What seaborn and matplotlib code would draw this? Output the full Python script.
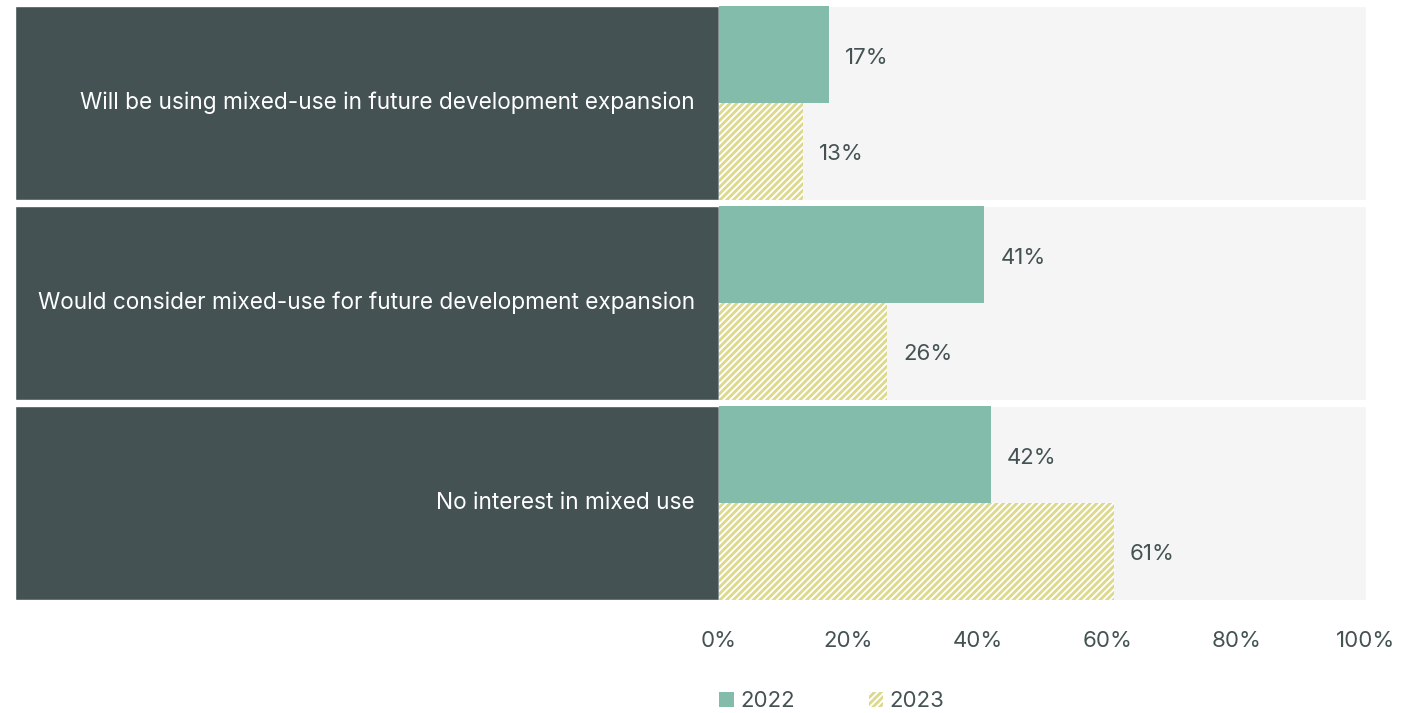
import pandas as pd
import numpy as np
import matplotlib.pyplot as plt
import matplotlib.patches as mpatches
import seaborn as sns

categories = ["Will be using mixed-use in future development expansion",
              "Would consider mixed-use for future development expansion",
              "No interest in mixed use"]
years = ["2022", "2023"]
vals_2022 = [17, 41, 42]
vals_2023 = [13, 26, 61]

dark = "#445254"
green = "#84bcac"
yellow = "#dcd88e"
bg = "#f5f5f5"

df = pd.DataFrame({
    "category": categories * 2,
    "year": [years[0]] * 3 + [years[1]] * 3,
    "value": vals_2022 + vals_2023,
})

sns.set_style("white")
plt.rcParams["font.family"] = ["Inter", "DejaVu Sans"]
plt.rcParams["hatch.linewidth"] = 2.0

fig = plt.figure(figsize=(14.28, 7.13), dpi=100)
ax = fig.add_axes([15 / 1428, 1 - 603 / 713, (1366 - 15) / 1428, 600 / 713])

left = -108.8
# panels behind the bars
for i in range(len(categories)):
    ax.barh(i, -left, left=left, height=0.97, color=dark, zorder=0)
    ax.barh(i, 100, left=0, height=0.97, color=bg, zorder=0)

sns.barplot(data=df, y="category", x="value", hue="year", hue_order=years,
            palette=[green, "white"], width=0.97, orient="h", ax=ax,
            legend=False, zorder=2, linewidth=0, saturation=1)

bars22, bars23 = ax.containers[-2:]
for p in bars23:
    p.set_hatch("/////")
    p.set_edgecolor(yellow)
    p.set_linewidth(0)

for cont, vals in zip([bars22, bars23], [vals_2022, vals_2023]):
    for p, v in zip(cont, vals):
        y = p.get_y() + p.get_height() / 2 + 0.015
        ax.text(v + 2.5, y, f"{v}%", va="center", ha="left",
                fontsize=16, color=dark)

for i, c in enumerate(categories):
    ax.text(-3.7, i, c, va="center", ha="right", fontsize=16.3, color="white")

ax.set_xlim(left, 100)
ax.set_ylim(2.5, -0.5)
ax.set_xticks([0, 20, 40, 60, 80, 100])
ax.set_xticklabels([f"{t}%" for t in [0, 20, 40, 60, 80, 100]],
                   fontsize=16, color=dark)
ax.tick_params(axis="x", length=0, pad=20)
ax.set_yticks([])
ax.set_xlabel("")
ax.set_ylabel("")
sns.despine(ax=ax, left=True, bottom=True)

handles = [mpatches.Patch(facecolor=green, edgecolor="none", label="2022"),
           mpatches.Patch(facecolor="white", edgecolor=yellow, hatch="/////",
                          linewidth=0, label="2023")]
fig.legend(handles=handles, loc="center", bbox_to_anchor=(832 / 1428, 1 - 701 / 713),
           ncol=2, frameon=False, fontsize=16, handlelength=0.65, handleheight=0.65,
           handletextpad=0.3, columnspacing=3.3, labelcolor=dark)

fig.savefig("out.png", dpi=100)
